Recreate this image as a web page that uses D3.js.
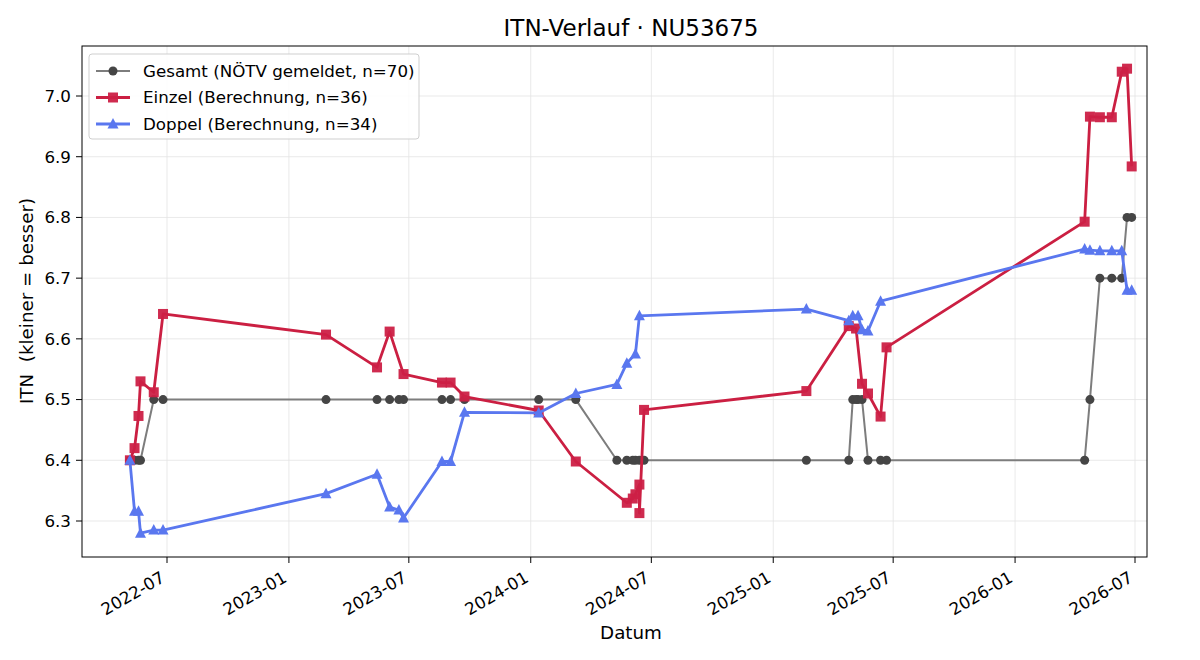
<!DOCTYPE html>
<html><head><meta charset="utf-8">
<script src="https://cdn.jsdelivr.net/npm/d3@7"></script>
<style>body{margin:0;background:#fff}svg{display:block;font-family:"DejaVu Sans",sans-serif}text{white-space:pre}</style>
</head><body><svg id="c" width="1200" height="660"></svg>
<script>
const gesamtDates = ["2022-05-06","2022-05-13","2022-05-19","2022-05-22","2022-06-11","2022-06-25","2023-02-26","2023-05-14","2023-06-02","2023-06-16","2023-06-23","2023-08-20","2023-09-02","2023-09-23","2024-01-13","2024-03-09","2024-05-10","2024-05-25","2024-06-03","2024-06-07","2024-06-13","2024-06-20","2025-02-20","2025-04-25","2025-05-01","2025-05-06","2025-05-09","2025-05-15","2025-05-24","2025-06-12","2025-06-21","2026-04-16","2026-04-24","2026-05-09","2026-05-27","2026-06-11","2026-06-19","2026-06-26"];
const gesamtValues = [6.4,6.4,6.4,6.4,6.5,6.5,6.5,6.5,6.5,6.5,6.5,6.5,6.5,6.5,6.5,6.5,6.4,6.4,6.4,6.4,6.4,6.4,6.4,6.4,6.5,6.5,6.5,6.5,6.4,6.4,6.4,6.4,6.5,6.7,6.7,6.7,6.8,6.8];
const einzelDates = ["2022-05-06","2022-05-13","2022-05-19","2022-05-22","2022-06-11","2022-06-25","2023-02-26","2023-05-14","2023-06-02","2023-06-23","2023-08-20","2023-09-02","2023-09-23","2024-01-13","2024-03-09","2024-05-25","2024-06-03","2024-06-07","2024-06-13","2024-06-13","2024-06-20","2025-02-20","2025-04-25","2025-05-06","2025-05-15","2025-05-24","2025-06-12","2025-06-21","2026-04-16","2026-04-24","2026-05-09","2026-05-27","2026-06-11","2026-06-19","2026-06-26"];
const einzelValues = [6.40,6.42,6.473,6.53,6.512,6.641,6.607,6.553,6.612,6.542,6.528,6.528,6.505,6.482,6.398,6.33,6.337,6.344,6.36,6.313,6.483,6.514,6.621,6.617,6.526,6.51,6.472,6.586,6.793,6.966,6.965,6.965,7.04,7.045,6.884];
const doppelDates = ["2022-05-06","2022-05-13","2022-05-19","2022-05-22","2022-06-11","2022-06-25","2023-02-26","2023-05-14","2023-06-02","2023-06-16","2023-06-23","2023-08-20","2023-09-02","2023-09-23","2024-01-13","2024-03-09","2024-05-10","2024-05-25","2024-06-07","2024-06-13","2025-02-20","2025-04-25","2025-05-01","2025-05-09","2025-05-15","2025-05-24","2025-06-12","2026-04-16","2026-04-24","2026-05-09","2026-05-27","2026-06-11","2026-06-19","2026-06-26"];
const doppelValues = [6.40,6.316,6.316,6.28,6.285,6.285,6.345,6.377,6.323,6.318,6.305,6.398,6.398,6.479,6.478,6.51,6.525,6.56,6.575,6.638,6.649,6.63,6.638,6.638,6.615,6.613,6.662,6.748,6.746,6.745,6.745,6.745,6.68,6.68];
const xTickDates = ["2022-07-01","2023-01-01","2023-07-01","2024-01-01","2024-07-01","2025-01-01","2025-07-01","2026-01-01","2026-07-01"];
const yTicks = [6.3,6.4,6.5,6.6,6.7,6.8,6.9,7.0];
const legendLabels = ["Gesamt (NÖTV gemeldet, n=70)","Einzel (Berechnung, n=36)","Doppel (Berechnung, n=34)"];

const parse = d3.utcParse("%Y-%m-%d");
const L=82,R=1147,T=46,B=557;
const x = d3.scaleUtc().domain([parse("2022-07-01"),parse("2026-07-01")]).range([167,1135]);
const y = d3.scaleLinear().domain([6.3,7.0]).range([521,96]);
const svg = d3.select("#c");

const g = svg.append("g");
g.selectAll(".gx").data(xTickDates).join("line").attr("x1",d=>x(parse(d))).attr("x2",d=>x(parse(d))).attr("y1",T).attr("y2",B).attr("stroke","#e3e3e3").attr("stroke-width",0.8);
g.selectAll(".gy").data(yTicks).join("line").attr("x1",L).attr("x2",R).attr("y1",d=>y(d)).attr("y2",d=>y(d)).attr("stroke","#e3e3e3").attr("stroke-width",0.8);

function mk(dates,vals){return dates.map((d,i)=>({d:parse(d),v:vals[i]}));}
const series=[
 {data:mk(gesamtDates,gesamtValues),line:"#7d7d7d",mark:"#454545",lw:2,shape:"circle"},
 {data:mk(einzelDates,einzelValues),line:"#cb1f42",mark:"#cc2046",lw:2.8,shape:"square"},
 {data:mk(doppelDates,doppelValues),line:"#5a77ef",mark:"#5a77ef",lw:2.8,shape:"triangle"}
];
const lineGen=d3.line().x(d=>x(d.d)).y(d=>y(d.v));
svg.append("defs").append("clipPath").attr("id","cp").append("rect").attr("x",L).attr("y",T).attr("width",R-L).attr("height",B-T);
const plot = svg.append("g").attr("clip-path","url(#cp)");
function drawMarker(sel,shape,color,cx,cy){
  if(shape==="circle") sel.append("circle").attr("cx",cx).attr("cy",cy).attr("r",4.5).attr("fill",color);
  else if(shape==="square") sel.append("rect").attr("x",cx-5).attr("y",cy-5).attr("width",10).attr("height",10).attr("fill",color).attr("fill-opacity",0.95);
  else sel.append("path").attr("d",`M${cx},${cy-6}L${cx+5.5},${cy+4.5}L${cx-5.5},${cy+4.5}Z`).attr("fill",color);
}
series.forEach(s=>{
  const gg=plot.append("g");
  gg.append("path").datum(s.data).attr("d",lineGen).attr("fill","none").attr("stroke",s.line).attr("stroke-width",s.lw).attr("stroke-linejoin","round");
  s.data.forEach(p=>drawMarker(gg,s.shape,s.mark,x(p.d),y(p.v)));
});

svg.append("rect").attr("x",L).attr("y",T).attr("width",R-L).attr("height",B-T).attr("fill","none").attr("stroke","#000").attr("stroke-width",1);

const fmt=d3.utcFormat("%Y-%m");
xTickDates.forEach(d=>{
  const px=x(parse(d));
  svg.append("line").attr("x1",px).attr("x2",px).attr("y1",B).attr("y2",B+6).attr("stroke","#000");
  svg.append("text").attr("transform",`translate(${px-1},${B+24}) rotate(-30)`).attr("text-anchor","end").attr("font-size",16.7).attr("fill","#000").text(fmt(parse(d)));
});
yTicks.forEach(v=>{
  const py=y(v);
  svg.append("line").attr("x1",L-6).attr("x2",L).attr("y1",py).attr("y2",py).attr("stroke","#000");
  svg.append("text").attr("x",L-11).attr("y",py).attr("dy","0.35em").attr("text-anchor","end").attr("font-size",16.7).text(v.toFixed(1));
});

svg.append("text").attr("x",631).attr("y",36).attr("text-anchor","middle").attr("font-size",23).text("ITN-Verlauf · NU53675");
svg.append("text").attr("x",631).attr("y",639).attr("text-anchor","middle").attr("font-size",18.3).text("Datum");
svg.append("text").attr("transform","translate(33,301) rotate(-90)").attr("text-anchor","middle").attr("font-size",18.3).text("ITN  (kleiner = besser)");

const lg=svg.append("g");
lg.append("rect").attr("x",89).attr("y",54).attr("width",330).attr("height",85).attr("rx",3).attr("fill","#fff").attr("fill-opacity",0.85).attr("stroke","#cfcfcf");
series.forEach((s,i)=>{
  const cy=71+i*26.5;
  lg.append("line").attr("x1",96).attr("x2",130).attr("y1",cy).attr("y2",cy).attr("stroke",s.line).attr("stroke-width",s.lw);
  drawMarker(lg,s.shape,s.mark,113,cy);
  lg.append("text").attr("x",143).attr("y",cy).attr("dy","0.35em").attr("font-size",16.7).text(legendLabels[i]);
});
</script></body></html>
